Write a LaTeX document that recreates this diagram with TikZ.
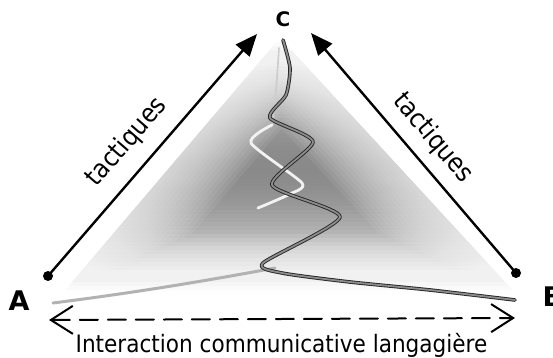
\documentclass[tikz,border=0pt]{standalone}
\usepackage{fontspec}
\setmainfont{DejaVu Sans}
\newfontfamily\narrowfont[FakeStretch=0.9]{DejaVu Sans}
\usetikzlibrary{arrows.meta}

\tikzset{
    vertex/.style={font=\bfseries\fontsize{13.5}{15}\selectfont, inner sep=0pt},
    tactic/.style={-{Triangle[length=11pt, width=9pt]}, line width=1.2pt},
    tacticlabel/.style={font=\narrowfont\fontsize{13}{15}\selectfont, inner sep=0pt},
    rope/.style={draw=black!85, double=black!45, double distance=0.9pt, line width=0.45pt},
    barbs/.style={{Straight Barb[length=11pt, width=14pt]}-{Straight Barb[length=11pt, width=14pt]}}
}

\begin{document}
\begin{tikzpicture}[line cap=round, line join=round, x=0.5pt, y=-0.5pt]
                \useasboundingbox (0,0) rectangle (553,358);
                \coordinate (a) at (48,276);
                \coordinate (b) at (516,273);
                \coordinate (ca) at (257,34);
                \coordinate (cb) at (311,33);
                \coordinate (apex) at (280,38);
                \coordinate (left) at (62,294);
                \coordinate (right) at (516,294);
                \coordinate (ia) at (49,320);
                \coordinate (ib) at (515,318);
                \begin{scope}
                    \clip (apex) -- (left) -- (right) -- cycle;
                    \foreach \i in {0,...,63} {
                        \pgfmathsetmacro{\tone}{46*sin(180*(\i+0.5)/64)^1.2}
                        \fill[black!\tone] (40,38+4*\i) rectangle (540,42.5+4*\i);
                    }
                    \foreach \w in {4,8,...,60}
                        \draw[white, opacity=0.07, line width=\w] (apex) -- (left) -- (right) -- cycle;
                \end{scope}
                \draw[black!30, line width=1.5pt] (53,303) .. controls (140,292) and (210,280) .. (275,268);
                \draw[black!20, line width=0.8pt] plot[smooth, tension=0.5] coordinates {(279,48) (276,90) (272,125)};
                \draw[black!5, line width=1.4pt] plot[smooth, tension=0.4] coordinates {(272,125) (251,143) (302,183) (290,194) (258,208)};
                \draw[rope] plot[smooth, tension=0.4] coordinates {(283,40) (290,68) (286,95) (270,118) (313,142) (272,185) (340,217) (263,263) (282,273) (350,282) (430,290) (515,300)};
                \draw[tactic] (a) -- (ca);
                \draw[tactic] (b) -- (cb);
                \draw[barbs, line width=1pt, dash pattern=on 9pt off 5pt] (ia) -- (ib);
                \foreach \point in {a, b}
                    \fill (\point) circle (5);
                \node[vertex] (A) at (19,301) {A};
                \node[vertex] (B) at (553,297) {B};
                \node[vertex, font=\bfseries\fontsize{10}{12}\selectfont] (C) at (283,19) {C};
                \node[tacticlabel, rotate=49] (tactA) at (127,142) {tactiques};
                \node[tacticlabel, rotate=-50] (tactB) at (433,138) {tactiques};
                \node[font=\narrowfont\fontsize{12}{14}\selectfont, inner sep=0pt, anchor=base] (interaction) at (281.5,353) {Interaction communicative langagière};
            \end{tikzpicture}
\end{document}
